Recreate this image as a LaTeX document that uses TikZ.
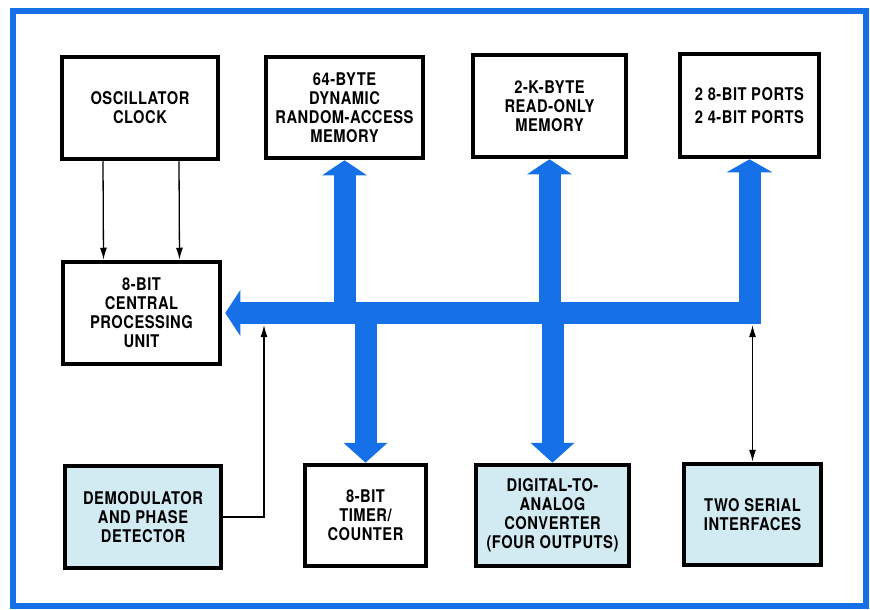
\documentclass[tikz,border=0pt]{standalone}
\usepackage{fontspec}
\setmainfont{TeX Gyre Heros}[FakeStretch=0.84,LetterSpace=3]
\usetikzlibrary{arrows.meta}
\definecolor{busblue}{RGB}{22,112,232}
\definecolor{boxfill}{RGB}{210,234,241}
\tikzset{
  blk/.style={draw,line width=4.5pt,align=center,inner sep=2pt,
    font=\fontsize{17.5}{19}\selectfont\bfseries},
  blkfill/.style={blk,fill=boxfill},
  bus/.style={line width=22pt,draw=busblue,line join=miter,
    -{Triangle[width=44pt,length=15pt,fill=busblue]}},
  sig/.style={line width=1.3pt,-{Latex[length=12pt,width=7pt]}}
}
\begin{document}
\begin{tikzpicture}[x=1pt,y=-1pt]
  \useasboundingbox (0,0) rectangle (870,610);
  \draw[busblue,line width=6pt] (13,11) rectangle (866,606);

  % top row
  \node[blk,minimum width=156pt,minimum height=102pt] (OSC) at (140,108) {OSCILLATOR\\CLOCK};
  \node[blk,minimum width=157pt,minimum height=101pt] (RAM) at (344.5,107.5) {64-BYTE\\DYNAMIC\\RANDOM-ACCESS\\MEMORY};
  \node[blk,minimum width=153pt,minimum height=102pt] (ROM) at (549.5,106) {2-K-BYTE\\READ-ONLY\\MEMORY};
  \node[blk,minimum width=139pt,minimum height=103pt] (PORTS) at (749.5,105.5) {2 8-BIT PORTS\\[4pt]2 4-BIT PORTS};

  % middle
  \node[blk,minimum width=157pt,minimum height=102pt] (CPU) at (141.5,313) {8-BIT\\CENTRAL\\PROCESSING\\UNIT};

  % bottom row
  \node[blkfill,minimum width=156pt,minimum height=102pt] (DEMOD) at (143,517) {DEMODULATOR\\AND PHASE\\DETECTOR};
  \node[blk,minimum width=121pt,minimum height=101pt] (TIMER) at (365.5,515.5) {8-BIT\\TIMER/\\COUNTER};
  \node[blkfill,minimum width=153pt,minimum height=101pt] (DAC) at (552.5,515.5) {DIGITAL-TO-\\ANALOG\\CONVERTER\\(FOUR OUTPUTS)};
  \node[blkfill,minimum width=137pt,minimum height=101pt] (SERIAL) at (752.5,514.5) {TWO SERIAL\\INTERFACES};

  \coordinate (busin) at (264,325);

  % data bus
  \draw[bus,{Triangle[width=45pt,length=15pt,fill=busblue]}-{Triangle[width=45pt,length=13pt,fill=busblue]}]
    ([xshift=3pt]CPU.east) -- (PORTS.south |- CPU.east) -- (PORTS.south);
  \draw[bus] (RAM.south |- CPU.east) -- (RAM.south);
  \draw[bus,-{Triangle[width=43pt,length=20pt,fill=busblue]}] (TIMER.north |- CPU.east) -- (TIMER.north);
  \draw[bus] (ROM.south |- CPU.east) -- (ROM.south);
  \draw[bus,-{Triangle[width=43pt,length=20pt,fill=busblue]}] (DAC.north |- CPU.east) -- (DAC.north);

  % control lines
  \draw[sig] ([xshift=-37pt]OSC.south) -- ([xshift=-38pt]CPU.north);
  \draw[sig] ([xshift=39pt]OSC.south) -- ([xshift=38pt]CPU.north);
  \draw[sig] (DEMOD.east) -| (busin);
  \draw[sig,{Latex[length=12pt,width=7pt]}-{Latex[length=12pt,width=7pt]}] (SERIAL.north) -- (SERIAL.north |- busin);
\end{tikzpicture}
\end{document}
